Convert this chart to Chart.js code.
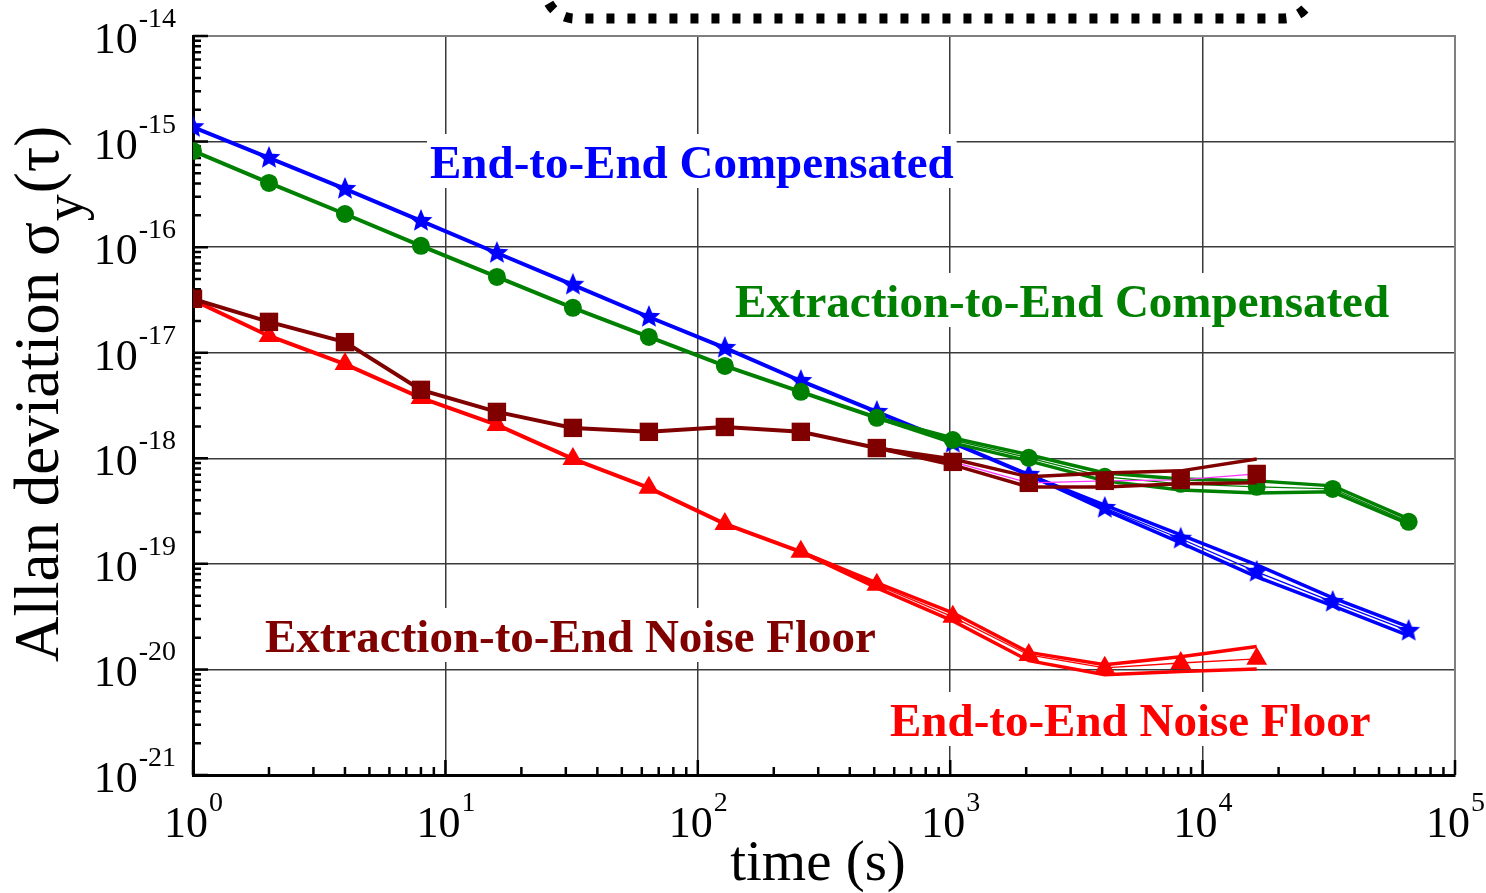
<!DOCTYPE html>
<html lang="en">
<head>
  <meta charset="UTF-8" />
  <title>Allan deviation</title>
  <script src="https://cdn.jsdelivr.net/npm/chart.js"></script>
  <style>
    html, body { margin: 0; padding: 0; background: #fff; }
    .wrap { width: 1486px; height: 893px; position: relative; }
  </style>
</head>
<body>
  <div class="wrap"><canvas id="adev"></canvas></div>

  <script>
    // averaging times (s)
    const tau = [1, 2, 4, 8, 16, 32, 64, 128, 256, 512, 1024, 2048, 4096, 8192, 16384, 32768, 65536];

    // End-to-End Compensated (blue stars)
    const e2eComp = [1.37e-15, 7.0e-16, 3.56e-16, 1.77e-16, 8.8e-17, 4.4e-17, 2.18e-17, 1.11e-17, 5.4e-18,
                     2.75e-18, 1.40e-18, 6.97e-19, 3.39e-19, 1.73e-19, 8.4e-20, 4.36e-20, 2.32e-20];
    const e2eCompTau = [2048, 4096, 8192, 16384, 32768, 65536];
    const e2eCompHi = [6.97e-19, 3.6e-19, 1.88e-19, 9.77e-20, 4.76e-20, 2.53e-20];
    const e2eCompLo = [6.97e-19, 3.24e-19, 1.58e-19, 7.53e-20, 4.0e-20, 2.09e-20];

    // Extraction-to-End Compensated (green circles)
    const x2eComp = [8.15e-16, 4.06e-16, 2.06e-16, 1.03e-16, 5.22e-17, 2.66e-17, 1.41e-17, 7.5e-18, 4.26e-18,
                     2.42e-18, 1.49e-18, 1.01e-18, 6.67e-19, 5.73e-19, 5.37e-19, 5.13e-19, 2.5e-19];
    const x2eCompTau = [512, 1024, 2048, 4096, 8192, 16384, 32768, 65536];
    const x2eCompHi = [2.42e-18, 1.56e-18, 1.08e-18, 7.27e-19, 6.38e-19, 6.11e-19, 5.48e-19, 2.67e-19];
    const x2eCompLo = [2.42e-18, 1.40e-18, 9.45e-19, 6.11e-19, 5.02e-19, 4.7e-19, 4.81e-19, 2.39e-19];

    // Extraction-to-End Noise Floor (dark red squares)
    const x2eNoise = [3.24e-17, 1.96e-17, 1.26e-17, 4.45e-18, 2.75e-18, 1.94e-18, 1.78e-18, 1.98e-18, 1.78e-18,
                      1.25e-18, 9.25e-19, 5.85e-19, 6.11e-19, 6.24e-19, 7.11e-19];
    const x2eNoiseTau = [512, 1024, 2048, 4096, 8192, 16384];
    const x2eNoiseHi = [1.25e-18, 9.86e-19, 6.67e-19, 7.27e-19, 7.6e-19, 9.86e-19];
    const x2eNoiseLo = [1.25e-18, 8.65e-19, 5.36e-19, 5.36e-19, 5.73e-19, 5.85e-19];

    // End-to-End Noise Floor (red triangles)
    const e2eNoise = [3.16e-17, 1.44e-17, 7.8e-18, 3.73e-18, 2.07e-18, 9.86e-19, 5.25e-19, 2.39e-19, 1.3e-19,
                      6.33e-20, 3.15e-20, 1.37e-20, 1.035e-20, 1.15e-20, 1.26e-20];
    const e2eNoiseTau = [256, 512, 1024, 2048, 4096, 8192, 16384];
    const e2eNoiseHi = [1.3e-19, 6.6e-20, 3.44e-20, 1.45e-20, 1.11e-20, 1.32e-20, 1.65e-20];
    const e2eNoiseLo = [1.3e-19, 5.93e-20, 2.88e-20, 1.21e-20, 8.9e-21, 9.55e-21, 1.01e-20];

    // tick labels (powers of ten)
    const xTickExp = [0, 1, 2, 3, 4, 5];
    const yTickExp = [-21, -20, -19, -18, -17, -16, -15, -14];

    const BLUE = '#0000ff', GREEN = '#008000', DARKRED = '#800000', RED = '#ff0000';
    const SERIF = '"Liberation Serif", "Times New Roman", serif';

    const pts = (xs, ys) => ys.map((v, i) => ({ x: xs[i], y: v }));

    function makeStar(r, color) {
      const c = document.createElement('canvas');
      c.width = c.height = 2 * r + 2;
      const g = c.getContext('2d');
      g.fillStyle = color;
      g.beginPath();
      for (let i = 0; i < 10; i++) {
        const a = -Math.PI / 2 + i * Math.PI / 5;
        const rr = i % 2 ? r * 0.45 : r;
        g.lineTo(c.width / 2 + rr * Math.cos(a), c.height / 2 + rr * Math.sin(a));
      }
      g.closePath();
      g.fill();
      return c;
    }

    function mainSet(label, data, color, style, radius, thinFrom, thinColor) {
      return {
        label, data, showLine: true,
        borderColor: color, backgroundColor: color,
        borderWidth: 4,
        pointStyle: style, pointRadius: radius, pointHoverRadius: radius,
        pointBorderWidth: 0, pointBackgroundColor: color,
        segment: {
          borderWidth: c => c.p0DataIndex >= thinFrom ? 1.3 : 4,
          borderColor: c => c.p0DataIndex >= thinFrom ? thinColor : color
        }
      };
    }
    function bandSet(label, data, color) {
      return { label, data, showLine: true, borderColor: color, borderWidth: 3.5, pointRadius: 0 };
    }

    const notes = [
      { text: 'End-to-End Compensated', color: BLUE, x: 430, y: 178 },
      { text: 'Extraction-to-End Compensated', color: GREEN, x: 735, y: 317 },
      { text: 'Extraction-to-End Noise Floor', color: DARKRED, x: 265, y: 652 },
      { text: 'End-to-End Noise Floor', color: RED, x: 890, y: 736 }
    ];
    const NOTE_FONT = 'bold 47px ' + SERIF;

    function drawPow(ctx, exp, x, y, align) {
      ctx.font = '44px ' + SERIF;
      const w1 = ctx.measureText('10').width;
      ctx.font = '28px ' + SERIF;
      const sup = String(exp);
      const w2 = ctx.measureText(sup).width;
      let left = align === 'right' ? x - w1 - w2 : x - (w1 + w2) / 2;
      ctx.textAlign = 'left';
      ctx.textBaseline = 'alphabetic';
      ctx.font = '44px ' + SERIF;
      ctx.fillText('10', left, y);
      ctx.font = '28px ' + SERIF;
      ctx.fillText(sup, left + w1 + 1, y - 26);
    }

    const deco = {
      id: 'deco',
      beforeDatasetsDraw(chart) {
        const { ctx, chartArea: a, scales: { x, y } } = chart;
        ctx.save();
        // light frame on top and right
        ctx.strokeStyle = '#7f7f7f';
        ctx.lineWidth = 2;
        ctx.beginPath();
        ctx.moveTo(a.left, a.top); ctx.lineTo(a.right, a.top); ctx.lineTo(a.right, a.bottom);
        ctx.stroke();
        // white backing under the curve names (breaks the grid)
        ctx.font = NOTE_FONT;
        ctx.fillStyle = '#fff';
        notes.forEach(n => {
          const w = ctx.measureText(n.text).width;
          ctx.fillRect(n.x - 3, n.y - 44, w + 6, 54);
        });
        // inward ticks on bottom and left axes
        ctx.strokeStyle = '#000';
        ctx.lineWidth = 2.5;
        ctx.beginPath();
        for (let e = xTickExp[0]; e < xTickExp[xTickExp.length - 1]; e++) {
          for (let k = 1; k <= 9; k++) {
            const px = x.getPixelForValue(k * Math.pow(10, e));
            const len = k === 1 ? 15 : 8;
            ctx.moveTo(px, a.bottom); ctx.lineTo(px, a.bottom - len);
          }
        }
        for (let e = yTickExp[0]; e < yTickExp[yTickExp.length - 1]; e++) {
          for (let k = 1; k <= 9; k++) {
            const py = y.getPixelForValue(k * Math.pow(10, e));
            const len = k === 1 ? 15 : 8;
            ctx.moveTo(a.left, py); ctx.lineTo(a.left + len, py);
          }
        }
        const top = y.getPixelForValue(Math.pow(10, yTickExp[yTickExp.length - 1]));
        ctx.moveTo(a.left, top); ctx.lineTo(a.left + 15, top);
        const right = x.getPixelForValue(Math.pow(10, xTickExp[xTickExp.length - 1]));
        ctx.moveTo(right, a.bottom); ctx.lineTo(right, a.bottom - 15);
        ctx.stroke();
        ctx.restore();
      },
      afterDraw(chart) {
        const { ctx, chartArea: a, scales: { x, y } } = chart;
        ctx.save();
        ctx.fillStyle = '#000';
        xTickExp.forEach(e => drawPow(ctx, e, x.getPixelForValue(Math.pow(10, e)), a.bottom + 62, 'center'));
        yTickExp.forEach(e => drawPow(ctx, e, a.left - 18, y.getPixelForValue(Math.pow(10, e)) + 17, 'right'));

        // curve names
        ctx.font = NOTE_FONT;
        ctx.textAlign = 'left';
        notes.forEach(n => { ctx.fillStyle = n.color; ctx.fillText(n.text, n.x, n.y); });

        // x title
        ctx.fillStyle = '#000';
        ctx.font = '57px ' + SERIF;
        ctx.textAlign = 'center';
        ctx.fillText('time (s)', (a.left + a.right) / 2 - 6, 880);

        // y title, rotated
        ctx.translate(58, 662);
        ctx.rotate(-Math.PI / 2);
        ctx.textAlign = 'left';
        ctx.font = '63px ' + SERIF;
        const t1 = 'Allan deviation \u03c3';
        ctx.fillText(t1, 0, 0);
        const w1 = ctx.measureText(t1).width;
        ctx.font = '54px ' + SERIF;
        ctx.fillText('y', w1 + 1, 24);
        const w2 = ctx.measureText('y').width;
        ctx.font = '63px ' + SERIF;
        ctx.fillText('(\u03c4)', w1 + w2 + 2, 0);
        ctx.setTransform(1, 0, 0, 1, 0, 0);

        // dotted rounded box at the top, cut by the page edge
        ctx.strokeStyle = '#000';
        ctx.lineWidth = 10;
        ctx.setLineDash([8, 13]);
        ctx.beginPath();
        ctx.moveTo(545, -80);
        ctx.arcTo(545, 18.5, 600, 18.5, 30);
        ctx.arcTo(1313, 18.5, 1313, -80, 30);
        ctx.lineTo(1313, -80);
        ctx.stroke();
        ctx.restore();
      }
    };

    const ctx = document.getElementById('adev').getContext('2d');
    const chart = new Chart(ctx, {
      type: 'scatter',
      data: {
        datasets: [
          mainSet('Extraction-to-End Noise Floor', pts(tau, x2eNoise), DARKRED, 'rect', 13, 10, '#ff33ff'),
          bandSet('x2e noise hi', pts(x2eNoiseTau, x2eNoiseHi), DARKRED),
          bandSet('x2e noise lo', pts(x2eNoiseTau, x2eNoiseLo), DARKRED),
          mainSet('Extraction-to-End Compensated', pts(tau, x2eComp), GREEN, 'circle', 9, 10, GREEN),
          bandSet('x2e comp hi', pts(x2eCompTau, x2eCompHi), GREEN),
          bandSet('x2e comp lo', pts(x2eCompTau, x2eCompLo), GREEN),
          mainSet('End-to-End Compensated', pts(tau, e2eComp), BLUE, makeStar(12, BLUE), 11, 12, BLUE),
          bandSet('e2e comp hi', pts(e2eCompTau, e2eCompHi), BLUE),
          bandSet('e2e comp lo', pts(e2eCompTau, e2eCompLo), BLUE),
          mainSet('End-to-End Noise Floor', pts(tau, e2eNoise), RED, 'triangle', 12, 9, RED),
          bandSet('e2e noise hi', pts(e2eNoiseTau, e2eNoiseHi), RED),
          bandSet('e2e noise lo', pts(e2eNoiseTau, e2eNoiseLo), RED)
        ]
      },
      options: {
        responsive: true,
        maintainAspectRatio: false,
        animation: false,
        layout: { padding: { top: 36, right: 31, left: 0, bottom: 0 } },
        scales: {
          x: {
            type: 'logarithmic',
            min: 1, max: 1e5,
            afterBuildTicks: s => { s.ticks = xTickExp.map(e => ({ value: Math.pow(10, e) })); },
            afterFit: s => { s.height = 118; },
            ticks: { display: false },
            grid: { color: '#3a3a3a', lineWidth: 1.5, drawTicks: false },
            border: { color: '#000', width: 3 }
          },
          y: {
            type: 'logarithmic',
            min: 1e-21, max: 1e-14,
            afterBuildTicks: s => { s.ticks = yTickExp.map(e => ({ value: Math.pow(10, e) })); },
            afterFit: s => { s.width = 193; },
            ticks: { display: false },
            grid: { color: '#3a3a3a', lineWidth: 1.5, drawTicks: false },
            border: { color: '#000', width: 3 }
          }
        },
        plugins: {
          legend: { display: false },
          tooltip: { enabled: false }
        }
      },
      plugins: [deco]
    });
  </script>
</body>
</html>
